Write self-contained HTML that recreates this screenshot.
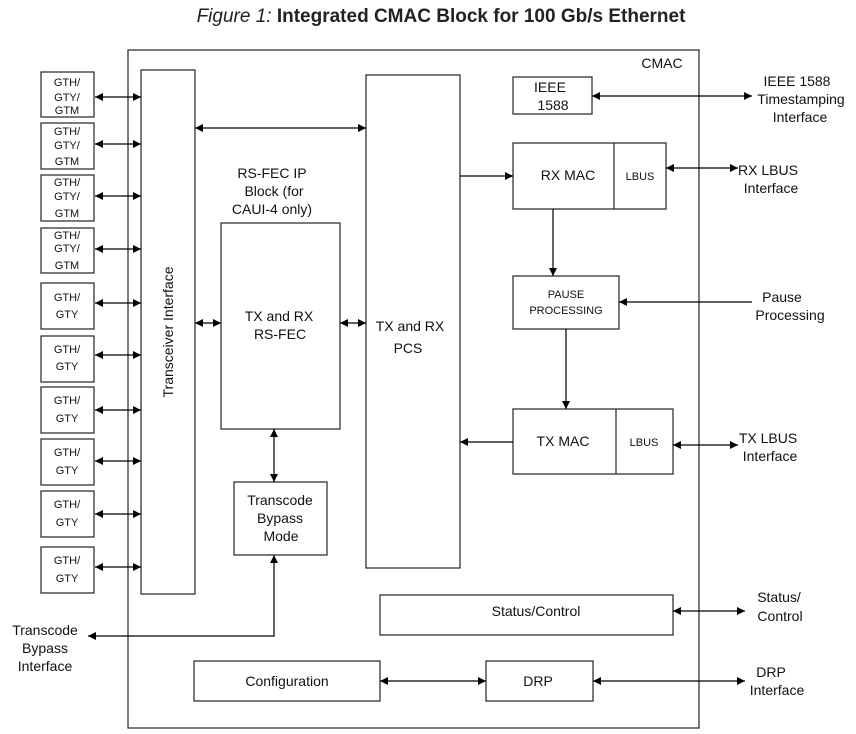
<!DOCTYPE html>
<html><head><meta charset="utf-8"><style>
html,body{margin:0;padding:0;background:#fff;}
svg{display:block;font-family:"Liberation Sans",sans-serif;}
</style></head><body>
<svg width="856" height="734" viewBox="0 0 856 734" xmlns="http://www.w3.org/2000/svg">
<defs>
<marker id="a" viewBox="0 0 10 10" refX="10" refY="5" markerWidth="9" markerHeight="8" orient="auto-start-reverse" markerUnits="userSpaceOnUse"><path d="M0,0 L10,5 L0,10 z" fill="#000"/></marker>
</defs>
<text x="441" y="22" text-anchor="middle" font-size="19" fill="#222"><tspan font-style="italic">Figure 1:</tspan><tspan font-weight="bold"> Integrated CMAC Block for 100 Gb/s Ethernet</tspan></text>
<g fill="none" stroke="#333" stroke-width="1.3">
<rect x="128" y="50" width="571" height="678"/>
<rect x="141" y="70" width="54" height="524"/>
<rect x="221" y="223" width="119" height="206"/>
<rect x="366" y="75" width="94" height="493"/>
<rect x="234" y="482" width="93" height="73"/>
<rect x="513" y="77" width="79" height="37"/>
<rect x="513" y="143" width="153" height="66"/><line x1="614" y1="143" x2="614" y2="209"/>
<rect x="513" y="276" width="106" height="53"/>
<rect x="513" y="409" width="160" height="65"/><line x1="616" y1="409" x2="616" y2="474"/>
<rect x="380" y="595" width="293" height="40"/>
<rect x="194" y="661" width="186" height="40"/>
<rect x="486" y="661" width="107" height="40"/>
<rect x="41" y="72" width="53" height="45"/>
<rect x="41" y="123" width="53" height="46"/>
<rect x="41" y="175" width="53" height="46"/>
<rect x="41" y="228" width="53" height="45"/>
<rect x="41" y="283" width="53" height="46"/>
<rect x="41" y="336" width="53" height="46"/>
<rect x="41" y="387" width="53" height="46"/>
<rect x="41" y="439" width="53" height="46"/>
<rect x="41" y="491" width="53" height="46"/>
<rect x="41" y="547" width="53" height="46"/>
</g>
<g stroke="#000" stroke-width="1.2" fill="none" marker-end="url(#a)" marker-start="url(#a)">
<line x1="95" y1="97" x2="141" y2="97"/>
<line x1="95" y1="144" x2="141" y2="144"/>
<line x1="95" y1="196" x2="141" y2="196"/>
<line x1="95" y1="249" x2="141" y2="249"/>
<line x1="95" y1="303" x2="141" y2="303"/>
<line x1="95" y1="355" x2="141" y2="355"/>
<line x1="95" y1="410" x2="141" y2="410"/>
<line x1="95" y1="461" x2="141" y2="461"/>
<line x1="95" y1="514" x2="141" y2="514"/>
<line x1="95" y1="567" x2="141" y2="567"/>
<line x1="195" y1="128" x2="366" y2="128"/>
<line x1="195" y1="323" x2="221" y2="323"/>
<line x1="340" y1="323" x2="366" y2="323"/>
<line x1="274" y1="429" x2="274" y2="482"/>
<line x1="592" y1="96" x2="752" y2="96"/>
<line x1="666" y1="168" x2="738" y2="168"/>
<line x1="673" y1="445" x2="738" y2="445"/>
<line x1="673" y1="611" x2="745" y2="611"/>
<line x1="593" y1="681" x2="745" y2="681"/>
<line x1="380" y1="681" x2="486" y2="681"/>
</g>
<g stroke="#000" stroke-width="1.2" fill="none" marker-end="url(#a)">
<polyline points="274,555 274,636 88,636" marker-start="url(#a)"/>
<line x1="460" y1="176" x2="513" y2="176"/>
<line x1="553" y1="209" x2="553" y2="276"/>
<line x1="752" y1="302" x2="619" y2="302"/>
<line x1="566" y1="329" x2="566" y2="409"/>
<line x1="513" y1="442" x2="460" y2="442"/>
</g>
<g font-size="11" fill="#111" text-anchor="middle">
<text x="67" y="86">GTH/</text><text x="67" y="101">GTY/</text><text x="67" y="114">GTM</text>
<text x="67" y="135">GTH/</text><text x="67" y="149">GTY/</text><text x="67" y="165">GTM</text>
<text x="67" y="186">GTH/</text><text x="67" y="200">GTY/</text><text x="67" y="217">GTM</text>
<text x="67" y="239">GTH/</text><text x="67" y="252">GTY/</text><text x="67" y="269">GTM</text>
<text x="67" y="301">GTH/</text><text x="67" y="318">GTY</text>
<text x="67" y="353">GTH/</text><text x="67" y="370">GTY</text>
<text x="67" y="404">GTH/</text><text x="67" y="422">GTY</text>
<text x="67" y="456">GTH/</text><text x="67" y="474">GTY</text>
<text x="67" y="508">GTH/</text><text x="67" y="526">GTY</text>
<text x="67" y="564">GTH/</text><text x="67" y="582">GTY</text>
<text x="566" y="298">PAUSE</text><text x="566" y="314">PROCESSING</text>
<text x="640" y="180">LBUS</text><text x="644" y="446">LBUS</text>
</g>
<g font-size="14" fill="#111" text-anchor="middle">
<text x="662" y="68">CMAC</text>
<text transform="translate(173,332) rotate(-90)">Transceiver Interface</text>
<text x="272" y="178">RS-FEC IP</text><text x="274" y="196">Block (for</text><text x="272" y="214">CAUI-4 only)</text>
<text x="279" y="321">TX and RX</text><text x="280" y="339">RS-FEC</text>
<text x="410" y="331">TX and RX</text><text x="408" y="353">PCS</text>
<text x="280" y="505">Transcode</text><text x="280" y="523">Bypass</text><text x="281" y="541">Mode</text>
<text x="550" y="92">IEEE</text><text x="553" y="110">1588</text>
<text x="568" y="180">RX MAC</text><text x="563" y="446">TX MAC</text>
<text x="536" y="616">Status/Control</text>
<text x="287" y="686">Configuration</text><text x="538" y="686">DRP</text>
<text x="797" y="86">IEEE 1588</text><text x="801" y="104">Timestamping</text><text x="800" y="122">Interface</text>
<text x="768" y="175">RX LBUS</text><text x="771" y="193">Interface</text>
<text x="782" y="302">Pause</text><text x="790" y="320">Processing</text>
<text x="768" y="443">TX LBUS</text><text x="770" y="461">Interface</text>
<text x="779" y="602">Status/</text><text x="780" y="621">Control</text>
<text x="771" y="677">DRP</text><text x="777" y="695">Interface</text>
<text x="45" y="635">Transcode</text><text x="45" y="653">Bypass</text><text x="45" y="671">Interface</text>
</g>
</svg>
</body></html>
